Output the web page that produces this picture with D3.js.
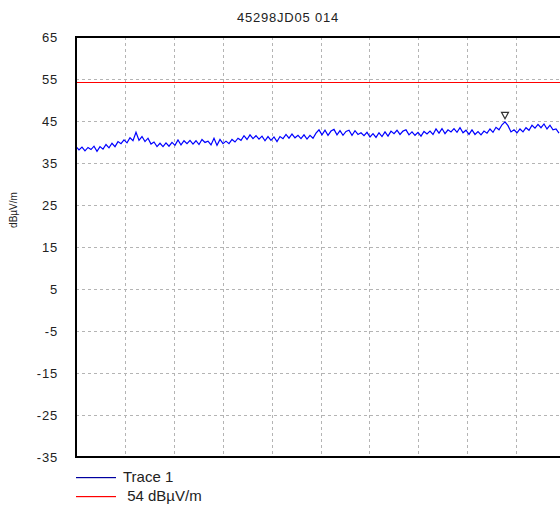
<!DOCTYPE html>
<html>
<head>
<meta charset="utf-8">
<script src="https://cdn.jsdelivr.net/npm/d3@7"></script>
<style>
  body { margin: 0; background: #fff; }
  svg { display: block; font-family: "Liberation Sans", Arial, sans-serif; }
  text { white-space: pre; }
</style>
</head>
<body>
<div id="chart"></div>
<script>
const title = "45298JD05 014";
const yTicks = [65, 55, 45, 35, 25, 15, 5, -5, -15, -25, -35];
const limitValue = 54;
const legendLabels = ["Trace 1", " 54 dBµV/m"];

// trace level in dBµV/m, one sample per step across the sweep
const trace = [
  38.9, 38.1, 38.8, 37.9, 38.7, 38.2, 39.0, 37.8, 38.9, 38.3,
  39.4, 38.6, 39.7, 38.9, 40.1, 39.6, 40.5, 39.8, 41.0, 40.3,
  42.3, 40.4, 41.3, 40.1, 40.9, 39.5, 40.0, 38.9, 39.7, 38.9,
  39.8, 39.0, 39.9, 39.2, 40.5, 39.3, 40.3, 39.6, 40.4, 39.5,
  40.3, 39.4, 40.6, 39.9, 40.2, 39.3, 40.9, 39.2, 40.6, 39.6,
  40.2, 39.6, 40.6, 40.0, 40.9, 40.4, 41.5, 40.6, 41.7, 40.8,
  41.5, 40.7, 41.4, 40.3, 41.3, 40.4, 41.2, 40.1, 41.3, 40.8,
  41.8, 40.9, 41.9, 41.0, 41.6, 40.8, 41.7, 40.7, 41.6, 40.9,
  42.1, 42.9, 41.7, 42.8, 41.6, 42.6, 43.0, 41.7, 42.7, 41.6,
  42.5, 42.8, 41.6, 42.7, 41.8, 42.2, 41.5, 42.3, 41.2, 42.0,
  41.1, 42.2, 41.3, 42.4, 41.4, 42.6, 42.0, 42.8, 41.8, 42.6,
  42.9, 41.7, 42.4, 41.6, 42.3, 41.4, 42.5, 41.9, 42.6, 41.8,
  43.1, 42.1, 43.2, 42.0, 42.9, 42.4, 43.2, 42.3, 43.4, 42.2,
  42.8, 41.8, 42.9, 41.8, 42.5, 41.7, 42.6, 42.1, 43.1, 42.3,
  43.5, 42.9, 44.1, 44.8, 43.9, 42.4, 42.9, 42.2, 43.1, 42.4,
  43.4, 42.8, 44.0, 43.3, 44.2, 43.4, 44.3, 43.1, 44.0, 42.9,
  43.1, 42.1
];
const markerIndex = [143];

const width = 560;
const height = 508;
const margin = { top: 37, left: 76, bottom: 51, right: -5 };

const svg = d3.select("#chart")
  .append("svg")
  .attr("width", width)
  .attr("height", height);

const x = d3.scaleLinear()
  .domain([0, 163])
  .range([margin.left, width - margin.right]);

const y = d3.scaleLinear()
  .domain([-35, 65])
  .range([height - margin.bottom, margin.top]);

// grid
const xDivs = d3.range(1, 10).map(k => x.domain()[1] * k / 10);
svg.append("g")
  .selectAll("line")
  .data(xDivs)
  .join("line")
  .attr("x1", d => Math.round(x(d)) + 0.5)
  .attr("x2", d => Math.round(x(d)) + 0.5)
  .attr("y1", y(65))
  .attr("y2", y(-35))
  .attr("stroke", "#b4b4b4")
  .attr("stroke-dasharray", "3,3");

svg.append("g")
  .selectAll("line")
  .data(yTicks.slice(1, -1))
  .join("line")
  .attr("x1", x(0))
  .attr("x2", width)
  .attr("y1", d => Math.round(y(d)) + 0.5)
  .attr("y2", d => Math.round(y(d)) + 0.5)
  .attr("stroke", "#b4b4b4")
  .attr("stroke-dasharray", "3,3");

// y tick labels
svg.append("g")
  .selectAll("text")
  .data(yTicks)
  .join("text")
  .attr("x", 58)
  .attr("y", d => y(d))
  .attr("dy", "0.35em")
  .attr("text-anchor", "end")
  .attr("font-size", 13)
  .attr("letter-spacing", 0.8)
  .attr("fill", "#222")
  .text(d => d);

// limit line
svg.append("rect")
  .attr("x", x(0))
  .attr("y", Math.round(y(limitValue)) - 1)
  .attr("width", width - x(0))
  .attr("height", 1)
  .attr("fill", "rgb(255,0,0)");

// trace
const line = d3.line()
  .x((d, i) => x(i))
  .y(d => y(d));

svg.append("path")
  .datum(trace)
  .attr("fill", "none")
  .attr("stroke", "rgb(0,0,255)")
  .attr("stroke-width", 1.2)
  .attr("d", line);

// peak marker
svg.append("g")
  .selectAll("path")
  .data(markerIndex)
  .join("path")
  .attr("transform", i => `translate(${x(i)},${y(trace[i]) - 3})`)
  .attr("d", "M0,0 L-3.5,-6.5 L3.5,-6.5 Z")
  .attr("fill", "#fff")
  .attr("stroke", "#333")
  .attr("stroke-width", 1.2);

// frame
svg.append("path")
  .attr("d", `M${width + 2},${y(65)} H${x(0)} V${y(-35)} H${width + 2}`)
  .attr("fill", "none")
  .attr("stroke", "#000")
  .attr("stroke-width", 2);

// title
svg.append("text")
  .attr("x", 288)
  .attr("y", 22)
  .attr("text-anchor", "middle")
  .attr("font-size", 13)
  .attr("letter-spacing", 0.8)
  .attr("fill", "#222")
  .text(title);

// y axis label
svg.append("text")
  .attr("transform", "translate(17,210) rotate(-90)")
  .attr("text-anchor", "middle")
  .attr("font-size", 10)
  .attr("fill", "#222")
  .text("dBµV/m");

// legend
const legendColors = ["rgb(0,0,160)", "rgb(255,0,0)"];
const legend = svg.append("g")
  .selectAll("g")
  .data(legendLabels)
  .join("g")
  .attr("transform", (d, i) => `translate(76,${477 + i * 19})`);

legend.append("rect")
  .attr("x", 0)
  .attr("y", 0)
  .attr("width", 40)
  .attr("height", 1.2)
  .attr("fill", (d, i) => legendColors[i]);

legend.append("text")
  .attr("x", 47)
  .attr("dy", "0.35em")
  .attr("font-size", 15)
  .attr("fill", "#222")
  .text(d => d);
</script>
</body>
</html>
